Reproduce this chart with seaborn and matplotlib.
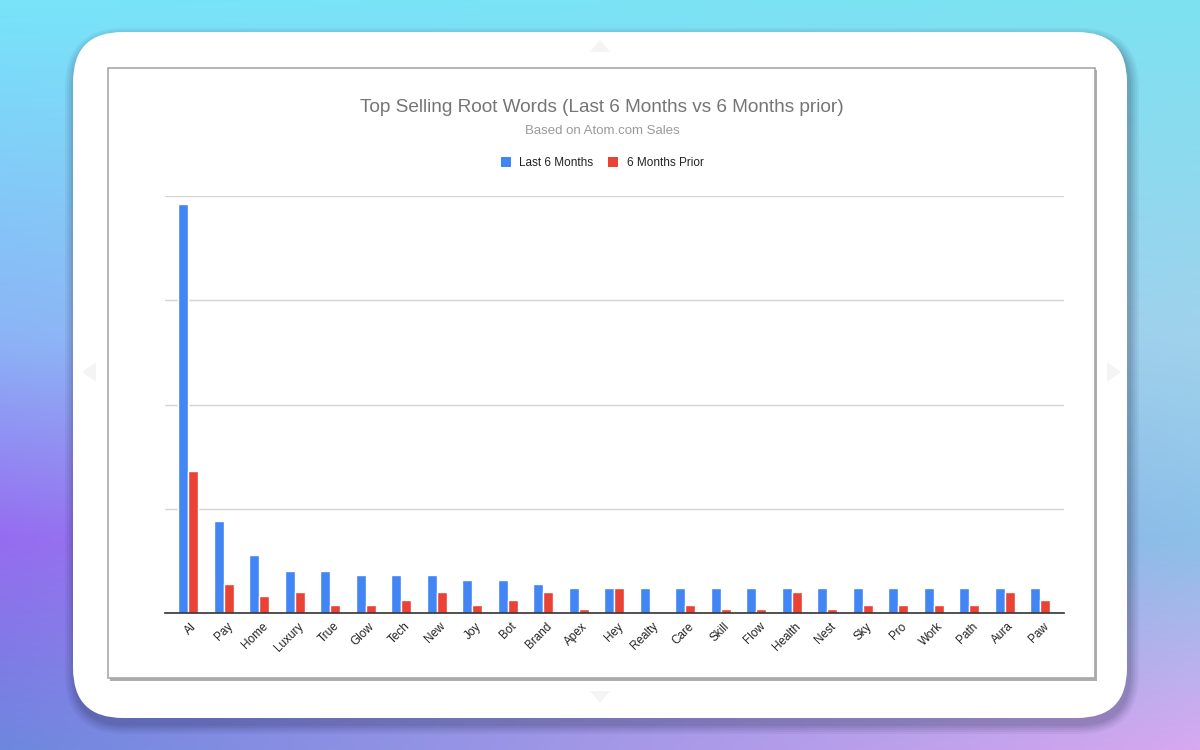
import numpy as np
import pandas as pd
import matplotlib
matplotlib.use("Agg")
import matplotlib.pyplot as plt
import matplotlib.transforms as mtransforms
from matplotlib.patches import FancyBboxPatch, Rectangle, Polygon, Patch
import seaborn as sns

# ---- data ----
words = ["AI", "Pay", "Home", "Luxury", "True", "Glow", "Tech", "New", "Joy", "Bot",
         "Brand", "Apex", "Hey", "Realty", "Care", "Skill", "Flow", "Health", "Nest",
         "Sky", "Pro", "Work", "Path", "Aura", "Paw"]
last_6_months = [98, 22, 14, 10, 10, 9, 9, 9, 8, 8, 7, 6, 6, 6, 6, 6, 6, 6, 6, 6, 6, 6, 6, 6, 6]
months_prior = [34, 7, 4, 5, 2, 2, 3, 5, 2, 3, 5, 1, 6, 0, 2, 1, 1, 5, 1, 2, 2, 2, 2, 5, 3]
series_names = ["Last 6 Months", "6 Months Prior"]
yticks = [0, 25, 50, 75, 100]

title = "Top Selling Root Words (Last 6 Months vs 6 Months prior)"
subtitle = "Based on Atom.com Sales"

BLUE = "#4285F4"
RED = "#EA4335"

df = pd.DataFrame({
    "word": words * 2,
    "count": last_6_months + months_prior,
    "period": [series_names[0]] * len(words) + [series_names[1]] * len(words),
})

sns.set_theme(style="white")
plt.rcParams["font.family"] = ["Liberation Sans", "DejaVu Sans"]

W, H = 1200, 750
fig = plt.figure(figsize=(12, 7.5), dpi=100)

# ---- background ----
bg = fig.add_axes([0, 0, 1, 1])
bg.set_xlim(0, W)
bg.set_ylim(H, 0)
bg.axis("off")
ys = np.linspace(0, 1, 150)
stops = [0.0, 0.45, 0.72, 1.0]
left_cols = np.array([[120, 228, 250], [140, 180, 246], [150, 108, 240], [110, 135, 222]]) / 255
right_cols = np.array([[125, 226, 240], [160, 210, 236], [140, 192, 232], [215, 168, 240]]) / 255
lc = np.stack([np.interp(ys, stops, left_cols[:, k]) for k in range(3)], axis=1)
rc = np.stack([np.interp(ys, stops, right_cols[:, k]) for k in range(3)], axis=1)
xs = np.linspace(0, 1, 240)
grad = (1 - xs)[None, :, None] * lc[:, None, :] + xs[None, :, None] * rc[:, None, :]
bg.imshow(np.clip(grad, 0, 1), extent=(0, W, H, 0), aspect="auto", zorder=0, interpolation="bilinear")

# card shadow
for i, a in enumerate([0.05, 0.05, 0.06, 0.07, 0.08]):
    g = 10 - 2 * i
    bg.add_patch(FancyBboxPatch((73 - g + 2, 32 - g + 6), 1054 + 2 * g, 686 + 2 * g,
                                boxstyle="round,pad=0,rounding_size=%d" % (50 + g),
                                facecolor="#1a2040", edgecolor="none", alpha=a, zorder=1))
bg.add_patch(FancyBboxPatch((73, 32), 1054, 686, boxstyle="round,pad=0,rounding_size=50",
                            facecolor="white", edgecolor="none", zorder=2))
# carousel arrows (faint)
arrow_col = "#f4f4f4"
bg.add_patch(Polygon([[590, 52], [610, 52], [600, 40]], closed=True, facecolor=arrow_col, edgecolor="none", zorder=3))
bg.add_patch(Polygon([[590, 691], [610, 691], [600, 703]], closed=True, facecolor=arrow_col, edgecolor="none", zorder=3))
bg.add_patch(Polygon([[96, 362], [96, 382], [82, 372]], closed=True, facecolor=arrow_col, edgecolor="none", zorder=3))
bg.add_patch(Polygon([[1107, 362], [1107, 382], [1121, 372]], closed=True, facecolor=arrow_col, edgecolor="none", zorder=3))

# chart frame with shadow
bg.add_patch(Rectangle((110, 70), 987, 611, facecolor="#8a8a8a", edgecolor="none", alpha=0.7, zorder=3))
bg.add_patch(Rectangle((108, 68), 987, 610, facecolor="white", edgecolor="#a8a8a8", lw=1.2, zorder=4))

# ---- main chart ----
left, right, top, bottom = 165, 1064, 196, 613
ax = fig.add_axes([left / W, 1 - bottom / H, (right - left) / W, (bottom - top) / H])
ax.patch.set_alpha(0)

sns.barplot(data=df, x="word", y="count", hue="period", palette=[BLUE, RED],
            width=0.56, saturation=1, ax=ax, legend=False, zorder=3)

ax.set_ylim(0, 100)
ax.set_xlim(-0.65, len(words) - 1 + 0.67)
ax.set_yticks(yticks)
ax.set_yticklabels([])
ax.tick_params(axis="y", length=0)
ax.tick_params(axis="x", length=0, pad=4)
ax.grid(axis="y", color="#d4d4d4", lw=1, zorder=0)
ax.grid(axis="x", visible=False)
for s in ["top", "right", "left"]:
    ax.spines[s].set_visible(False)
ax.spines["bottom"].set_color("#333333")
ax.spines["bottom"].set_linewidth(1.2)
ax.spines["bottom"].set_zorder(5)
ax.set_xlabel("")
ax.set_ylabel("")

ax.set_xticks(range(len(words)))
ax.set_xticklabels(words, rotation=45, ha="right", va="center", rotation_mode="anchor",
                   fontsize=8.5, color="#222222")
offset = mtransforms.ScaledTranslation(7 / 100, -6 / 100, fig.dpi_scale_trans)
for lab in ax.get_xticklabels():
    lab.set_transform(lab.get_transform() + offset)

# titles
fig.text(602 / W, 1 - 107 / H, title, ha="center", va="center", fontsize=13.7, color="#757575")
fig.text(602 / W, 1 - 131 / H, subtitle, ha="center", va="center", fontsize=9.5, color="#9a9a9a")

handles = [Patch(facecolor=BLUE, edgecolor="none"), Patch(facecolor=RED, edgecolor="none")]
fig.legend(handles, series_names, loc="center", bbox_to_anchor=(602 / W, 1 - 163 / H),
           ncol=2, frameon=False, fontsize=8.5, handlelength=0.9, handleheight=0.9,
           handletextpad=0.7, columnspacing=1.2, labelcolor="#222222")

fig.savefig("out.png", dpi=100)
